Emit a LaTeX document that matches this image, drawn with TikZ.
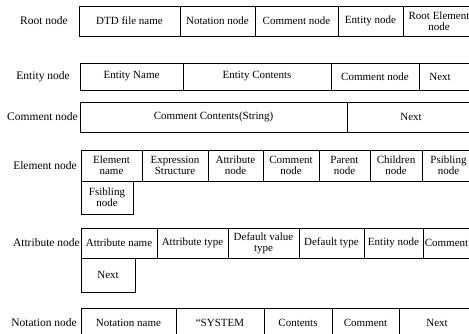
\documentclass[tikz,border=0pt]{standalone}
\usepackage{fontspec}
\setmainfont{Liberation Serif}
\newcommand{\mycell}[6]{%
  \node[cell, minimum width={(#3-#2)*1pt}, minimum height={(#5-#4)*1pt}]
    (#1) at ({(#2+#3)/2},{(#4+#5)/2}) {#6};}
\begin{document}
\begin{tikzpicture}[x=1pt, y=-1pt,
  cell/.style={draw, line width=0.8pt, inner sep=0pt, align=center,
    font=\fontsize{11}{11}\selectfont},
  rowlabel/.style={anchor=east, inner sep=0pt, font=\fontsize{11.5}{12}\selectfont}]
\useasboundingbox (0,0) rectangle (469,334);
% row labels
\node[rowlabel] (lroot) at (68,21) {Root node};
\node[rowlabel] (lentity) at (70,76.5) {Entity node};
\node[rowlabel] (lcomment) at (78,117) {Comment node};
\node[rowlabel] (lelement) at (77,165.5) {Element node};
\node[rowlabel] (lattr) at (80,243) {Attribute node};
\node[rowlabel] (lnotation) at (77,323) {Notation node};
% Root node row
\mycell{r1}{79}{180}{6}{36}{DTD file name}
\mycell{r2}{180}{255}{6}{36}{Notation node}
\mycell{r3}{255}{338}{6}{36}{Comment node}
\mycell{r4}{338}{403}{6}{36}{Entity node}
\mycell{r5}{403}{475}{6}{36}{Root Element\\node}
% Entity node row
\mycell{e1}{80}{183}{63}{90}{Entity Name}
\mycell{e2}{183}{331}{63}{90}{Entity Contents}
\mycell{e3}{331}{419}{63}{90}{Comment node}
\mycell{e4}{419}{475}{63}{90}{Next\hspace*{14pt}}
% Comment node row
\mycell{c1}{80}{347}{102}{132}{Comment Contents(String)}
\mycell{c2}{347}{475}{102}{132}{Next}
% Element node row
\mycell{m1}{81}{142}{150}{181}{Element\\name}
\mycell{m2}{142}{208}{150}{181}{Expression\\Structure}
\mycell{m3}{208}{263}{150}{181}{Attribute\\node}
\mycell{m4}{263}{319}{150}{181}{Comment\\node}
\mycell{m5}{319}{370}{150}{181}{Parent\\node}
\mycell{m6}{370}{422}{150}{181}{Children\\node}
\mycell{m7}{422}{475}{150}{181}{Psibling\\node}
\mycell{m8}{81}{133}{181}{214}{Fsibling\\node}
% Attribute node row
\mycell{a1}{81}{157}{228}{258}{Attribute name}
\mycell{a2}{157}{228}{228}{258}{Attribute type}
\mycell{a3}{228}{299}{228}{258}{Default value\\type}
\mycell{a4}{299}{364}{228}{258}{Default type}
\mycell{a5}{364}{423}{228}{258}{Entity node}
\mycell{a6}{423}{470}{228}{258}{Comment}
\mycell{a7}{81}{135}{258}{292}{Next}
% Notation node row
\mycell{n1}{81}{176}{308}{338}{Notation name}
\mycell{n2}{176}{264}{308}{338}{“SYSTEM}
\mycell{n3}{264}{332}{308}{338}{Contents}
\mycell{n4}{332}{399}{308}{338}{Comment}
\mycell{n5}{399}{475}{308}{338}{Next}
\end{tikzpicture}
\end{document}
